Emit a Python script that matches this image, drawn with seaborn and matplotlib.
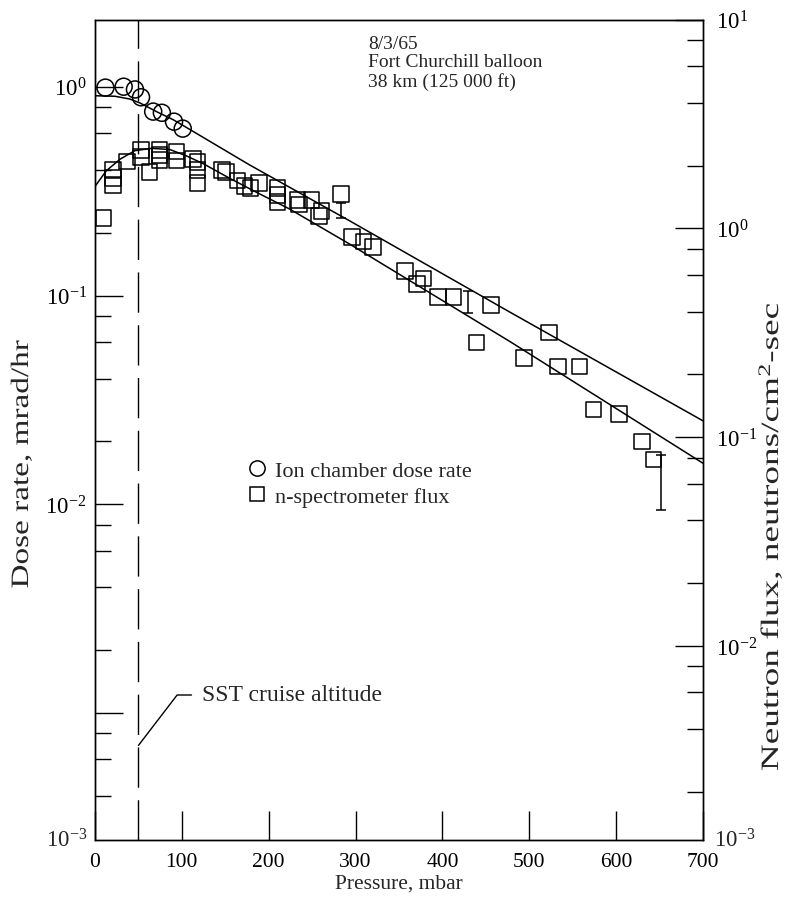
import numpy as np
import matplotlib
matplotlib.use("Agg")
import matplotlib.pyplot as plt
from matplotlib.lines import Line2D
from matplotlib.ticker import FixedLocator, FixedFormatter, NullFormatter
from matplotlib.patheffects import AbstractPathEffect
from matplotlib.transforms import Affine2D
import seaborn as sns

# Ion chamber dose rate (mrad/hr) against pressure (mbar)
ion_pressure = [12, 33, 46, 53, 67, 77, 91, 101]
ion_dose = [0.99, 1.0, 0.97, 0.89, 0.76, 0.75, 0.68, 0.63]

# n-spectrometer neutron flux (neutrons/cm2-sec) against pressure (mbar)
n_pressure = [10, 21, 21, 21, 37, 53, 53, 63, 74, 74, 74, 94, 94,
              113, 118, 118, 118, 146, 151, 164, 172, 179, 189,
              210, 210, 210, 233, 235, 249, 258, 261, 283,
              296, 309, 320, 357, 371, 378, 395, 413, 439, 456,
              494, 523, 533, 558, 574, 603, 630, 643]
n_flux = [1.12, 1.91, 1.75, 1.62, 2.09, 2.38, 2.20, 1.87, 2.38, 2.25, 2.13, 2.34, 2.12,
          2.15, 2.08, 1.91, 1.65, 1.91, 1.87, 1.70, 1.60, 1.56, 1.65,
          1.56, 1.45, 1.34, 1.37, 1.30, 1.37, 1.15, 1.21, 1.46,
          0.911, 0.866, 0.815, 0.624, 0.542, 0.576, 0.471, 0.471, 0.284, 0.429,
          0.240, 0.317, 0.218, 0.218, 0.136, 0.129, 0.0954, 0.0783]

# Flux uncertainty ranges
err_pressure = [283, 430, 652]
err_low = [1.12, 0.394, 0.045]
err_high = [1.33, 0.504, 0.082]

# Fitted curves
dose_fit_pressure = [0, 23, 40, 52, 71, 90, 105, 178, 293, 478, 700]
dose_fit = [0.905, 0.90, 0.873, 0.835, 0.759, 0.695, 0.639, 0.422, 0.228, 0.0831, 0.0251]
flux_fit_pressure = [0, 13, 29, 46, 65, 86, 105, 125, 155, 186, 224, 293, 478, 700]
flux_fit = [1.59, 1.89, 2.15, 2.36, 2.42, 2.39, 2.23, 2.04, 1.74, 1.49, 1.24, 0.843, 0.287, 0.0751]

sst_pressure = 50
sst_label_level = 7.0e-4

x_ticks = [0, 100, 200, 300, 400, 500, 600, 700]
left_major = [1.0, 0.1, 0.01, 0.001]
left_major_labels = [r"$10^{0}$", r"$10^{-1}$", r"$10^{-2}$", ""]
right_major = [10.0, 1.0, 0.1, 0.01]
right_major_labels = [r"$10^{1}$", r"$10^{0}$", r"$10^{-1}$", r"$10^{-2}$"]


class Elongate(AbstractPathEffect):
    """Stretch glyphs along the vertical display direction about a figure point."""

    def __init__(self, fig, center, factor):
        super().__init__()
        self.fig = fig
        self.center = center
        self.factor = factor

    def draw_path(self, renderer, gc, tpath, affine, rgbFace=None):
        cx, cy = self.fig.transFigure.transform(self.center)
        extra = Affine2D().translate(-cx, -cy).scale(1.0, self.factor).translate(cx, cy)
        renderer.draw_path(gc, tpath, affine + extra, rgbFace)


sns.set_theme(style="white")
plt.rcParams["font.family"] = ["Liberation Serif", "DejaVu Serif"]
plt.rcParams["mathtext.fontset"] = "custom"
plt.rcParams["mathtext.rm"] = "Liberation Serif"
plt.rcParams["mathtext.it"] = "Liberation Serif:italic"
plt.rcParams["mathtext.bf"] = "Liberation Serif:bold"
plt.rcParams["axes.linewidth"] = 1.0
plt.rcParams["axes.edgecolor"] = "black"

TICK_FS = 15.5
fig = plt.figure(figsize=(7.86, 9.03), dpi=100)
ax = fig.add_axes([95 / 786, 1 - 840.5 / 903, 608 / 786, 819.8 / 903])
ax2 = ax.twinx()

ax.set_xlim(0, 700)
ax.set_yscale("log")
ax.set_ylim(10 ** -3.6054, 10 ** 0.3209)
ax2.set_yscale("log")
ax2.set_ylim(10 ** -2.9263, 10 ** 1.0)

# Dose-rate curve and ion chamber points on the left scale
sns.lineplot(x=dose_fit_pressure, y=dose_fit, ax=ax, color="black", lw=1.1, sort=False)
sns.scatterplot(x=ion_pressure, y=ion_dose, ax=ax, marker="o", s=150,
                color="black", linewidth=1.1, zorder=3)
ax.collections[-1].set_facecolor("none")
ax.collections[-1].set_edgecolor("black")

# Neutron flux curve, points and error bars on the right scale
sns.lineplot(x=flux_fit_pressure, y=flux_fit, ax=ax2, color="black", lw=1.1, sort=False)
sns.scatterplot(x=n_pressure, y=n_flux, ax=ax2, marker="s", s=125,
                color="black", linewidth=1.1, zorder=3)
ax2.collections[-1].set_facecolor("none")
ax2.collections[-1].set_edgecolor("black")
lo = np.array(err_low)
hi = np.array(err_high)
ax2.errorbar(err_pressure, hi, yerr=[hi - lo, np.zeros_like(hi)], fmt="none",
             ecolor="black", elinewidth=1.1, capsize=3.7, capthick=1.1)

# SST cruise altitude marker
ax.axvline(sst_pressure, color="black", lw=1.0, ls=(0, (29, 9)))
ax.annotate("SST cruise altitude", xy=(sst_pressure, sst_label_level),
            xytext=((201.7 - 95) / 608, (840.5 - 696) / 819.8), textcoords="axes fraction",
            fontsize=17, ha="left", va="center",
            arrowprops=dict(arrowstyle="-", color="black", lw=1.0, shrinkA=5, shrinkB=0,
                            relpos=(0, 0.5),
                            connectionstyle="angle,angleA=0,angleB=52.5,rad=0"))

ax.text((368 - 95) / 608, (840.5 - 36) / 819.8,
        "8/3/65\nFort Churchill balloon\n38 km (125 000 ft)",
        transform=ax.transAxes, fontsize=14, ha="left", va="top", linespacing=1.1)

# Axis ticks
ax.xaxis.set_major_locator(FixedLocator(x_ticks))
ax.tick_params(axis="x", which="major", direction="in", length=21, width=1.0,
               labelsize=TICK_FS, pad=9, bottom=True, top=False, colors="black")
ax.yaxis.set_major_locator(FixedLocator(left_major))
ax.yaxis.set_major_formatter(FixedFormatter(left_major_labels))
minor_left = [m * d for d in [1, 0.1, 0.01, 0.001] for m in [0.2, 0.4, 0.6, 0.8]]
ax.yaxis.set_minor_locator(FixedLocator(minor_left))
ax.yaxis.set_minor_formatter(NullFormatter())
ax.tick_params(axis="y", which="major", direction="in", length=20, width=1.0,
               labelsize=16.5, pad=6, left=True, right=False, colors="black")
ax.tick_params(axis="y", which="minor", direction="in", length=11.5, width=1.0,
               left=True, right=False, colors="black")

ax2.yaxis.set_major_locator(FixedLocator(right_major))
ax2.yaxis.set_major_formatter(FixedFormatter(right_major_labels))
minor_right = [m * d for d in [10, 1, 0.1, 0.01] for m in [0.2, 0.4, 0.6, 0.8]]
ax2.yaxis.set_minor_locator(FixedLocator(minor_right))
ax2.yaxis.set_minor_formatter(NullFormatter())
ax2.tick_params(axis="y", which="major", direction="in", length=20, width=1.0,
                labelsize=16.5, pad=9, right=True, left=False, colors="black")
ax2.tick_params(axis="y", which="minor", direction="in", length=11.5, width=1.0,
                right=True, left=False, colors="black")

for a in (ax, ax2):
    for sp in a.spines.values():
        sp.set_color("black")
        sp.set_linewidth(1.0)

# Bottom decade labels at the foot of both scales
ax.text(-0.012, 0.0, r"$10^{-3}$", transform=ax.transAxes, fontsize=16.5, ha="right", va="center")
ax2.text(1.018, 0.0, r"$10^{-3}$", transform=ax2.transAxes, fontsize=16.5, ha="left", va="center")

ax.set_xlabel("Pressure, mbar", fontsize=TICK_FS, labelpad=2)

# Vertical axis titles, drawn slightly elongated along their reading direction
left_pos = (22 / 786, 1 - 465 / 903)
right_pos = (770 / 786, 1 - 537 / 903)
fig.text(*left_pos, "Dose rate, mrad/hr", rotation=90, fontsize=18,
         ha="center", va="center", path_effects=[Elongate(fig, left_pos, 1.33)])
fig.text(*right_pos, r"Neutron flux, neutrons/cm$^{2}$-sec", rotation=90,
         fontsize=18, ha="center", va="center",
         path_effects=[Elongate(fig, right_pos, 1.49)])

handles = [Line2D([], [], ls="", marker="o", ms=11, mfc="none", mec="black", mew=1.1),
           Line2D([], [], ls="", marker="s", ms=10.5, mfc="none", mec="black", mew=1.1)]
ax2.legend(handles, ["Ion chamber dose rate", "n-spectrometer flux"],
           loc="upper left", bbox_to_anchor=(249 / 786, 1 - 461 / 903),
           bbox_transform=fig.transFigure, frameon=False, fontsize=16,
           borderpad=0, borderaxespad=0, handlelength=0.7, handletextpad=0.45,
           labelspacing=0.25)

fig.savefig("out.png", dpi=100)
